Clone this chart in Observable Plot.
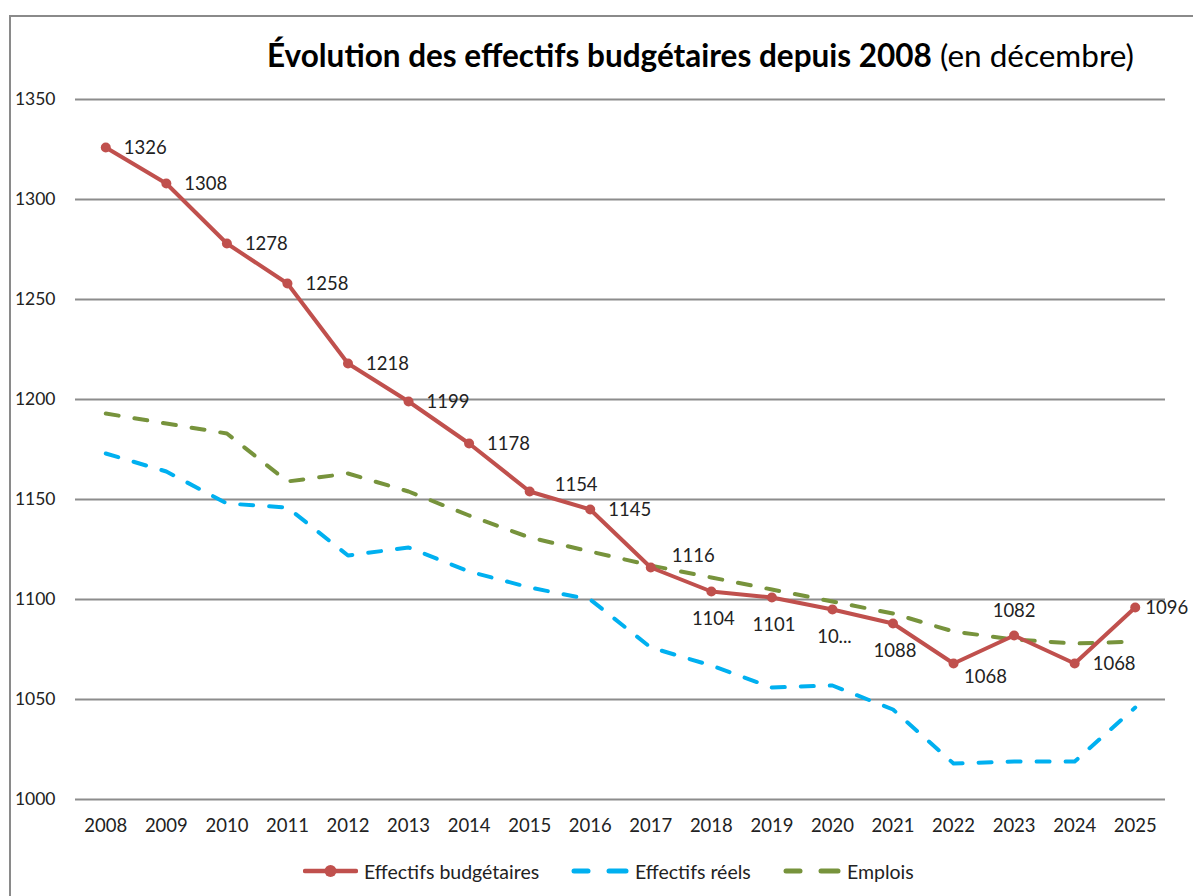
<!DOCTYPE html>
<html>
<head>
<meta charset="utf-8">
<script src="https://cdn.jsdelivr.net/npm/d3@7"></script>
<script src="https://cdn.jsdelivr.net/npm/@observablehq/plot@0.6"></script>
<style>
  html, body { margin: 0; padding: 0; background: #fff; }
  #wrap { position: relative; width: 1193px; height: 896px; overflow: hidden; font-family: Lato, "Noto Sans", sans-serif; }
  #frame { position: absolute; left: 9px; top: 15px; width: 1300px; height: 1000px; border-left: 2px solid #8a8a8a; border-top: 2px solid #8a8a8a; }
  #title { position: absolute; left: 267px; top: 35px; font-size: 31.5px; line-height: 40px; color: #000; white-space: nowrap; }
  #title b { font-weight: 700; }
  #chart { position: absolute; left: 0; top: 80px; }
  #legend { position: absolute; top: 858px; left: 0; width: 1193px; height: 26px; font-size: 19.5px; color: #222; }
  .item { position: absolute; top: 0; display: flex; align-items: center; height: 26px; white-space: nowrap; }
  .item svg { margin-right: 6px; }
</style>
</head>
<body>
<div id="wrap">
  <div id="frame"></div>
  <div id="title"><b>Évolution des effectifs budgétaires depuis 2008</b> (en décembre)</div>
  <div id="chart"></div>
  <div id="legend"></div>
</div>
<script>
const years = [2008, 2009, 2010, 2011, 2012, 2013, 2014, 2015, 2016, 2017, 2018, 2019, 2020, 2021, 2022, 2023, 2024, 2025];
const budgetaires = [1326, 1308, 1278, 1258, 1218, 1199, 1178, 1154, 1145, 1116, 1104, 1101, 1095, 1088, 1068, 1082, 1068, 1096];
const reels = [1173, 1164, 1148, 1146, 1122, 1126, 1114, 1106, 1100, 1076, 1067, 1056, 1057, 1045, 1018, 1019, 1019, 1046];
const emplois = [1193, 1188, 1183, 1159, 1163, 1154, 1142, 1131, 1124, 1117, 1111, 1105, 1099, 1093, 1084, 1080, 1078, 1079];
const budgetLabels = ["1326", "1308", "1278", "1258", "1218", "1199", "1178", "1154", "1145", "1116", "1104", "1101", "10...", "1088", "1068", "1082", "1068", "1096"];
// label placement codes: r = right, ru = right/up, ar = above right, b = below, br = below right, a = above, re = right at edge
const labelPlace = ["r", "r", "r", "r", "r", "r", "r", "ru", "r", "ar", "b", "b", "b", "b", "br", "a", "r", "re"];
const yTicks = [1000, 1050, 1100, 1150, 1200, 1250, 1300, 1350];
const seriesNames = ["Effectifs budgétaires", "Effectifs réels", "Emplois"];
const seriesColors = ["#c0504d", "#00b0f0", "#77933c"];

const budget = years.map((y, i) => ({year: y, value: budgetaires[i], label: budgetLabels[i], place: labelPlace[i]}));
const reel = years.map((y, i) => ({year: y, value: reels[i]}));
const empl = years.map((y, i) => ({year: y, value: emplois[i]}));

const placeStyle = {
  r:  {dx: 18, dy: 1, textAnchor: "start"},
  re: {dx: 10, dy: 1, textAnchor: "start"},
  ru: {dx: 25, dy: -6, textAnchor: "start"},
  ar: {dx: 21, dy: -11, textAnchor: "start"},
  b:  {dx: 2, dy: 28, textAnchor: "middle"},
  br: {dx: 32, dy: 14, textAnchor: "middle"},
  a:  {dx: 0, dy: -24, textAnchor: "middle"}
};
const labelMarks = Object.entries(placeStyle).map(([k, s]) =>
  Plot.text(budget.filter(d => d.place === k), {
    x: "year", y: "value", text: "label",
    dx: s.dx, dy: s.dy, textAnchor: s.textAnchor,
    fontSize: 18.5, fill: "#222", fontFamily: "Lato"
  })
);

const chart = Plot.plot({
  width: 1193,
  height: 759,
  marginTop: 19,
  marginBottom: 40,
  marginLeft: 75,
  marginRight: 28,
  style: {fontFamily: "Lato, 'Noto Sans', sans-serif", fontSize: "17.5px", color: "#222", background: "transparent", overflow: "visible"},
  x: {type: "point", domain: years, padding: 0.5, round: false, label: null},
  y: {domain: [1000, 1350], label: null},
  marks: [
    Plot.ruleY(yTicks, {stroke: "#8c8c8c", strokeWidth: 2}),
    Plot.axisX({tickSize: 0, tickPadding: 19, tickFormat: d => String(d), fontSize: 18.5, label: null}),
    Plot.axisY({ticks: yTicks, tickSize: 0, tickPadding: 20, tickFormat: d => String(d), fontSize: 17.5, label: null}),
    Plot.line(reel, {x: "year", y: "value", stroke: seriesColors[1], strokeWidth: 4, strokeDasharray: "13,16", strokeLinecap: "round"}),
    Plot.line(empl, {x: "year", y: "value", stroke: seriesColors[2], strokeWidth: 4, strokeDasharray: "13,16", strokeLinecap: "round"}),
    Plot.line(budget, {x: "year", y: "value", stroke: seriesColors[0], strokeWidth: 4}),
    Plot.dot(budget, {x: "year", y: "value", r: 5, fill: seriesColors[0]}),
    ...labelMarks
  ]
});
document.getElementById("chart").appendChild(chart);

// Legend
const legend = document.getElementById("legend");
const legendX = [303, 571, 783];
seriesNames.forEach((name, i) => {
  const item = document.createElement("div");
  item.className = "item";
  item.style.left = legendX[i] + "px";
  const c = seriesColors[i];
  let sym;
  if (i === 0) {
    sym = `<svg width="55" height="14"><line x1="2" y1="7" x2="53" y2="7" stroke="${c}" stroke-width="4.5" stroke-linecap="round"/><circle cx="27.5" cy="7" r="6" fill="${c}"/></svg>`;
  } else {
    sym = `<svg width="58" height="14"><line x1="3" y1="7" x2="17" y2="7" stroke="${c}" stroke-width="5" stroke-linecap="round"/><line x1="38" y1="7" x2="55" y2="7" stroke="${c}" stroke-width="5" stroke-linecap="round"/></svg>`;
  }
  item.innerHTML = sym + `<span>${name}</span>`;
  legend.appendChild(item);
});
</script>
</body>
</html>
